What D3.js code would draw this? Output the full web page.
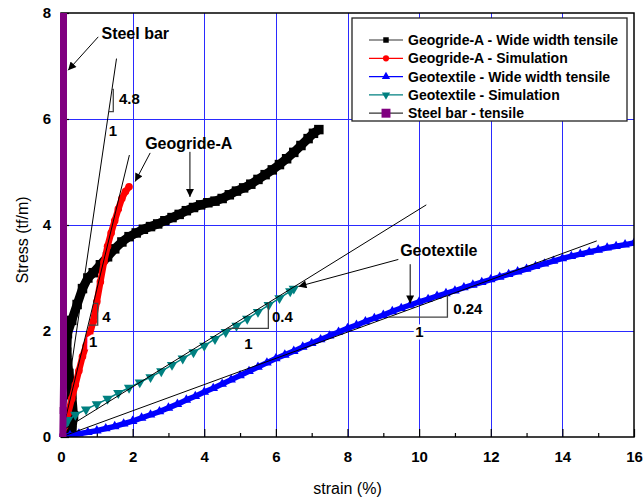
<!DOCTYPE html>
<html>
<head>
<meta charset="utf-8">
<script src="https://cdn.jsdelivr.net/npm/d3@7"></script>
<style>
  body { margin: 0; background: #fff; }
  text { font-family: Arial, "Liberation Sans", sans-serif; }
</style>
</head>
<body>
<svg id="chart" width="643" height="499"></svg>
<script>
// ---- data ----
const geogridStrain = [0, 0.15, 0.3, 0.35, 0.3, 0.22, 0.16, 0.18, 0.3, 0.45, 0.6, 0.75, 0.9, 1.1, 1.3, 1.5, 1.7, 1.9, 2.1, 2.3, 2.5, 2.7, 2.9, 3.1, 3.3, 3.5, 3.7, 3.9, 4.1, 4.3, 4.5, 4.7, 4.9, 5.1, 5.3, 5.5, 5.7, 5.9, 6.1, 6.3, 6.5, 6.7, 6.9, 7.05, 7.2];
const geogridStress = [0, 0.05, 0.12, 0.4, 0.8, 1.2, 1.6, 1.95, 2.2, 2.5, 2.8, 3.0, 3.1, 3.25, 3.4, 3.55, 3.68, 3.78, 3.85, 3.92, 3.97, 4.02, 4.08, 4.14, 4.2, 4.27, 4.33, 4.38, 4.42, 4.45, 4.5, 4.57, 4.64, 4.7, 4.77, 4.86, 4.95, 5.04, 5.14, 5.25, 5.37, 5.5, 5.63, 5.73, 5.8];

const geogridSimStrain = [0, 0.1, 0.2, 0.3, 0.4, 0.5, 0.6, 0.7, 0.8, 0.9, 1.0, 1.1, 1.2, 1.3, 1.4, 1.5, 1.6, 1.7, 1.8, 1.9];
const geogridSimStress = [0, 0.2, 0.45, 0.72, 0.98, 1.25, 1.52, 1.72, 1.93, 2.18, 2.55, 2.93, 3.3, 3.6, 3.85, 4.08, 4.3, 4.5, 4.63, 4.72];

const geotexStrain = [0, 0.25, 0.5, 0.75, 1, 1.25, 1.5, 1.75, 2, 2.25, 2.5, 2.75, 3, 3.25, 3.5, 3.75, 4, 4.25, 4.5, 4.75, 5, 5.25, 5.5, 5.75, 6, 6.25, 6.5, 6.75, 7, 7.25, 7.5, 7.75, 8, 8.25, 8.5, 8.75, 9, 9.25, 9.5, 9.75, 10, 10.25, 10.5, 10.75, 11, 11.25, 11.5, 11.75, 12, 12.25, 12.5, 12.75, 13, 13.25, 13.5, 13.75, 14, 14.25, 14.5, 14.75, 15, 15.25, 15.5, 15.75, 16];
const geotexStress = [0, 0.03, 0.06, 0.09, 0.12, 0.16, 0.2, 0.25, 0.3, 0.36, 0.42, 0.48, 0.55, 0.62, 0.7, 0.77, 0.85, 0.92, 1.0, 1.08, 1.16, 1.24, 1.32, 1.4, 1.48, 1.55, 1.62, 1.7, 1.77, 1.84, 1.91, 1.98, 2.05, 2.11, 2.18, 2.24, 2.3, 2.37, 2.43, 2.49, 2.55, 2.6, 2.66, 2.71, 2.76, 2.82, 2.87, 2.92, 2.97, 3.02, 3.07, 3.12, 3.17, 3.22, 3.27, 3.32, 3.37, 3.41, 3.45, 3.49, 3.53, 3.57, 3.6, 3.63, 3.66];

const geotexSimStrain = [0, 0.1, 0.2, 0.4, 0.7, 1.0, 1.3, 1.6, 1.9, 2.2, 2.5, 2.8, 3.1, 3.4, 3.7, 4.0, 4.3, 4.6, 4.9, 5.2, 5.5, 5.8, 6.1, 6.4, 6.5];
const geotexSimStress = [0, 0.2, 0.32, 0.42, 0.52, 0.62, 0.72, 0.83, 0.93, 1.03, 1.13, 1.24, 1.36, 1.48, 1.6, 1.72, 1.85, 1.98, 2.1, 2.23, 2.36, 2.49, 2.62, 2.75, 2.8];

const steelStrain = [0.05, 0.06, 0.07, 0.07, 0.07, 0.07, 0.07, 0.07, 0.07, 0.07, 0.07];
const steelStress = [0, 0.5, 1, 2, 3, 4, 5, 6, 7, 8, 8.3];

const legendLabels = ["Geogride-A - Wide width tensile", "Geogride-A - Simulation", "Geotextile - Wide width tensile", "Geotextile - Simulation", "Steel bar - tensile"];
const xTicks = [0, 2, 4, 6, 8, 10, 12, 14, 16];
const yTicks = [0, 2, 4, 6, 8];

// tangent lines [x1, y1, x2, y2] and their slope triangles
const tangents = [[0, 0, 1.55, 7.14], [0, 0, 1.91, 5.32], [0.1, 0.15, 10.2, 4.38], [0, 0, 14.96, 3.7]];
const slopeTris = [
  {line: 0, yLo: 6.14, yHi: 6.56, xR: 1.46, rise: "4.8", riseAt: [1.62, 6.38], run: "1", runAt: [1.45, 5.79]},
  {line: 1, yLo: 2.11, yHi: 2.52, xR: 1.025, rise: "4", riseAt: [1.15, 2.27], run: "1", runAt: [0.9, 1.8]},
  {line: 2, yLo: 2.05, yHi: 2.53, xR: 5.79, rise: "0.4", riseAt: [5.89, 2.27], run: "1", runAt: [5.23, 1.77]},
  {line: 3, yLo: 2.26, yHi: 2.67, xR: 10.79, rise: "0.24", riseAt: [10.95, 2.42], run: "1", runAt: [10.01, 1.99]}
];

// callouts: label position + arrows [fromX, fromY, toX, toY]
const callouts = [
  {text: "Steel bar", at: [1.13, 7.62], arrows: [[1.04, 7.55, 0.2, 6.92]]},
  {text: "Geogride-A", at: [2.35, 5.55], arrows: [[2.49, 5.36, 2.07, 4.82], [3.6, 5.38, 3.6, 4.53]]},
  {text: "Geotextile", at: [9.47, 3.53], arrows: [[9.42, 3.35, 6.63, 2.84], [9.75, 3.26, 9.75, 2.52]]}
];

// ---- layout ----
const width = 643, height = 499;
const margin = {top: 13, right: 9, bottom: 62, left: 61};

const svg = d3.select("#chart");

const x = d3.scaleLinear().domain([0, 16]).range([margin.left, width - margin.right]);
const y = d3.scaleLinear().domain([0, 8]).range([height - margin.bottom, margin.top]);

const defs = svg.append("defs");
defs.append("clipPath").attr("id", "plot-clip")
  .append("rect")
  .attr("x", margin.left).attr("y", margin.top)
  .attr("width", x(16) - x(0)).attr("height", y(0) - y(8));
// steel bar overlaps the left frame slightly
defs.append("clipPath").attr("id", "steel-clip")
  .append("rect")
  .attr("x", margin.left - 2).attr("y", margin.top)
  .attr("width", 40).attr("height", y(0) - y(8));

defs.append("marker")
  .attr("id", "arrow")
  .attr("viewBox", "0 0 10 10")
  .attr("refX", 10).attr("refY", 5)
  .attr("markerWidth", 11).attr("markerHeight", 8)
  .attr("markerUnits", "userSpaceOnUse")
  .attr("orient", "auto")
  .append("path").attr("d", "M0,0L10,5L0,10Z").attr("fill", "#000");

// grid
const grid = svg.append("g").attr("stroke", "#2a2aff").attr("stroke-width", 1);
grid.selectAll("line.v").data(xTicks.slice(1, -1)).enter().append("line")
  .attr("x1", d => Math.round(x(d)) + 0.5).attr("x2", d => Math.round(x(d)) + 0.5)
  .attr("y1", y(0)).attr("y2", y(8));
grid.selectAll("line.h").data(yTicks.slice(1, -1)).enter().append("line")
  .attr("y1", d => Math.round(y(d)) + 0.5).attr("y2", d => Math.round(y(d)) + 0.5)
  .attr("x1", x(0)).attr("x2", x(16));

// axes with inward ticks
svg.append("g").attr("transform", `translate(0,${y(0)})`)
  .call(d3.axisBottom(x).tickValues(xTicks).tickFormat(d3.format("d")).tickSizeInner(-8).tickSizeOuter(0).tickPadding(14));
svg.append("g").attr("transform", `translate(0,${y(0)})`)
  .call(d3.axisBottom(x).tickValues(d3.range(1, 16, 2)).tickFormat("").tickSizeInner(-4).tickSizeOuter(0));
svg.append("g").attr("transform", `translate(${x(0)},0)`)
  .call(d3.axisLeft(y).tickValues(yTicks).tickFormat(d3.format("d")).tickSizeInner(-8).tickSizeOuter(0).tickPadding(10));
svg.append("g").attr("transform", `translate(${x(0)},0)`)
  .call(d3.axisLeft(y).tickValues([1, 3, 5, 7]).tickFormat("").tickSizeInner(-4).tickSizeOuter(0));
svg.selectAll(".domain").remove();
svg.selectAll(".tick line").attr("stroke", "#000").attr("stroke-width", 1.2);
svg.selectAll(".tick text")
  .attr("font-size", 15).attr("font-weight", "bold").attr("fill", "#000")
  .style("font-family", "Arial, 'Liberation Sans', sans-serif");

// axis titles
svg.append("text")
  .attr("x", (x(0) + x(16)) / 2).attr("y", 494)
  .attr("text-anchor", "middle").attr("font-size", 16)
  .text("strain (%)");
svg.append("text")
  .attr("transform", `translate(28,${(y(0) + y(8)) / 2 + 15}) rotate(-90)`)
  .attr("text-anchor", "middle").attr("font-size", 16)
  .text("Stress (tf/m)");

// series
const series = [
  {xs: geogridStrain, ys: geogridStress, color: "#000", lineW: 9, symbol: d3.symbolSquare, size: 90, rot: 0},
  {xs: geogridSimStrain, ys: geogridSimStress, color: "#ff0000", lineW: 6.5, symbol: d3.symbolCircle, size: 45, rot: 0},
  {xs: geotexStrain, ys: geotexStress, color: "#0000ff", lineW: 5.5, symbol: d3.symbolTriangle, size: 40, rot: 0},
  {xs: geotexSimStrain, ys: geotexSimStress, color: "#008080", lineW: 1.5, symbol: d3.symbolTriangle, size: 46, rot: 180},
  {xs: steelStrain, ys: steelStress, color: "#800080", lineW: 7, symbol: d3.symbolSquare, size: 49, rot: 0}
];

const plot = svg.append("g").attr("clip-path", "url(#plot-clip)");
const line = d3.line().x(d => x(d[0])).y(d => y(d[1]));

function drawSeries(g, s) {
  const pts = s.xs.map((v, i) => [v, s.ys[i]]);
  g.append("path").datum(pts)
    .attr("d", line).attr("fill", "none")
    .attr("stroke", s.color).attr("stroke-width", s.lineW)
    .attr("stroke-linejoin", "round");
  g.selectAll(null).data(pts).enter().append("path")
    .attr("d", d3.symbol().type(s.symbol).size(s.size))
    .attr("transform", d => `translate(${x(d[0])},${y(d[1])}) rotate(${s.rot})`)
    .attr("fill", s.color);
}
series.slice(0, 4).forEach(s => drawSeries(plot, s));

// tangent lines
plot.selectAll("line.tan").data(tangents).enter().append("line")
  .attr("x1", d => x(d[0])).attr("y1", d => y(d[1]))
  .attr("x2", d => x(d[2])).attr("y2", d => y(d[3]))
  .attr("stroke", "#000").attr("stroke-width", 1);

// slope triangles
const lineX = (t, yy) => t[0] + (yy - t[1]) * (t[2] - t[0]) / (t[3] - t[1]);
slopeTris.forEach(s => {
  const t = tangents[s.line];
  const p = d3.path();
  p.moveTo(x(lineX(t, s.yLo)), y(s.yLo));
  p.lineTo(x(s.xR), y(s.yLo));
  p.lineTo(x(s.xR), y(s.yHi));
  p.lineTo(x(lineX(t, s.yHi)), y(s.yHi));
  svg.append("path").attr("d", p.toString())
    .attr("fill", "none").attr("stroke", "#444").attr("stroke-width", 1.3);

  svg.append("text")
    .attr("x", x(s.riseAt[0])).attr("y", y(s.riseAt[1])).attr("dy", "0.36em")
    .attr("font-size", 15).attr("font-weight", "bold")
    .text(s.rise);
  svg.append("text")
    .attr("x", x(s.runAt[0])).attr("y", y(s.runAt[1])).attr("dy", "0.36em")
    .attr("text-anchor", "middle")
    .attr("font-size", 15).attr("font-weight", "bold")
    .attr("paint-order", "stroke").attr("stroke", "#fff").attr("stroke-width", 5)
    .text(s.run);
});

// callouts
callouts.forEach(c => {
  svg.append("text")
    .attr("x", x(c.at[0])).attr("y", y(c.at[1])).attr("dy", "0.36em")
    .attr("font-size", 16).attr("font-weight", "bold")
    .text(c.text);
  c.arrows.forEach(a => {
    svg.append("line")
      .attr("x1", x(a[0])).attr("y1", y(a[1]))
      .attr("x2", x(a[2])).attr("y2", y(a[3]))
      .attr("stroke", "#000").attr("stroke-width", 1)
      .attr("marker-end", "url(#arrow)");
  });
});

// frame
svg.append("rect")
  .attr("x", x(0)).attr("y", y(8))
  .attr("width", x(16) - x(0)).attr("height", y(0) - y(8))
  .attr("fill", "none").attr("stroke", "#000").attr("stroke-width", 1.5);

// steel bar on top of the frame
drawSeries(svg.append("g").attr("clip-path", "url(#steel-clip)"), series[4]);

// legend
const legend = svg.append("g").attr("transform", "translate(352,18)");
legend.append("rect")
  .attr("width", 275).attr("height", 103)
  .attr("fill", "#fff").attr("stroke", "#222").attr("stroke-width", 1.3);
const legendLine = ["#333", "#ff0000", "#0000ff", "#008080", "#333"];
legendLabels.forEach((lab, i) => {
  const s = series[i];
  const g = legend.append("g").attr("transform", `translate(0,${22 + i * 18.3})`);
  g.append("line").attr("x1", 17).attr("x2", 51)
    .attr("stroke", legendLine[i]).attr("stroke-width", 1.2);
  g.append("path")
    .attr("d", d3.symbol().type(s.symbol).size(i === 4 ? 80 : 30))
    .attr("transform", `translate(34,0) rotate(${s.rot})`)
    .attr("fill", s.color);
  g.append("text").attr("x", 56).attr("dy", "0.36em")
    .attr("font-size", 14).attr("font-weight", "bold")
    .text(lab);
});
</script>
</body>
</html>
